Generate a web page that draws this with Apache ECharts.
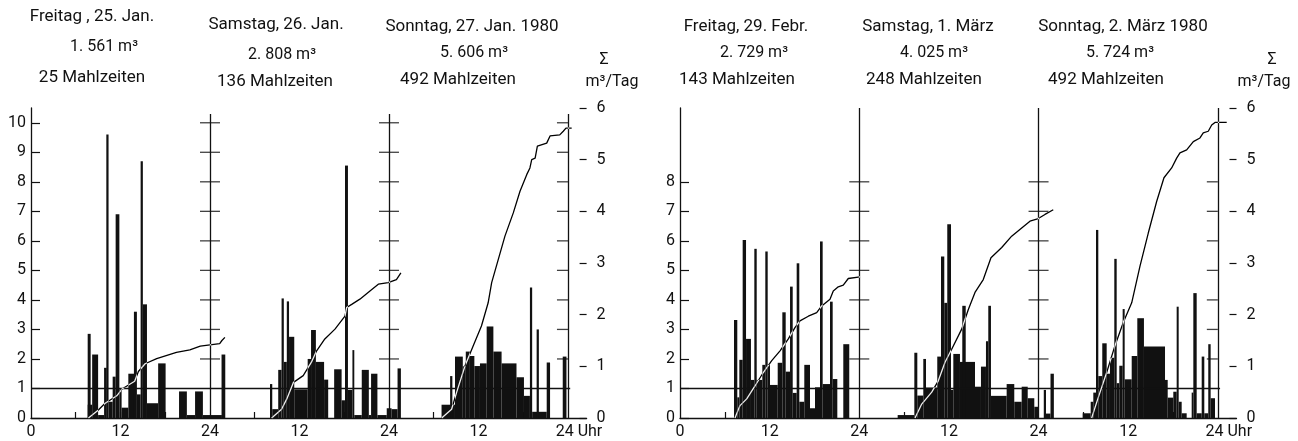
<!DOCTYPE html>
<html>
<head>
<meta charset="utf-8">
<script src="https://cdn.jsdelivr.net/npm/echarts@6/dist/echarts.min.js"></script>
<style>
html, body { margin: 0; padding: 0; background: #fff; }
#chart { width: 1298px; height: 441px; }
</style>
</head>
<body>
<div id="chart"></div>
<script>
'use strict';

/* Stundenachse: drei Tage hintereinander, 0..72 h */
var hourLabelValues = [0, 12, 24, 36, 48, 60, 72];
var hourLabelTexts = ['0', '12', '24', '12', '24', '12', '24 Uhr'];
var hourTickValues = [6, 12, 18, 30, 36, 42, 54, 60, 66];
var dayEnds = [24, 48, 72];

/* linke Achse (m3/h) und rechte Achse (Summe m3/Tag) */
var janLevels = [0, 1, 2, 3, 4, 5, 6, 7, 8, 9, 10];
var marLevels = [0, 1, 2, 3, 4, 5, 6, 7, 8];
var janCrossLevels = [2, 3, 4, 5, 6, 7, 8, 9, 10];
var marCrossLevels = [2, 3, 4, 5, 6, 7, 8];

/* Kopfzeilen je Tag */
var janDays = [
    ['Freitag , 25. Jan.', '1. 561 m³', '25 Mahlzeiten'],
    ['Samstag, 26. Jan.', '2. 808 m³', '136 Mahlzeiten'],
    ['Sonntag, 27. Jan. 1980', '5. 606 m³', '492 Mahlzeiten']
];
var marDays = [
    ['Freitag, 29. Febr.', '2. 729 m³', '143 Mahlzeiten'],
    ['Samstag, 1. März', '4. 025 m³', '248 Mahlzeiten'],
    ['Sonntag, 2. März 1980', '5. 724 m³', '492 Mahlzeiten']
];

/* Verbrauchsbloecke [von h, bis h, m3/h] - Januar */
var janBlocks = [
    // Freitag
    [7.6, 8.0, 2.85], [7.6, 8.2, 0.45], [8.2, 9.0, 2.15], [9.0, 9.8, 0.1], [9.8, 10.15, 1.7],
    [10.1, 10.4, 9.6], [10.4, 10.95, 0.55], [10.95, 11.35, 1.4], [11.35, 11.85, 6.9], [11.85, 12.15, 1.0],
    [12.15, 13.05, 0.35], [13.05, 13.85, 1.5], [13.8, 14.2, 3.6], [14.2, 14.7, 0.8], [14.7, 15.0, 8.7],
    [15.0, 15.55, 3.85], [15.55, 17.05, 0.5], [17.05, 18.05, 1.85], [19.85, 20.9, 0.9], [20.9, 22.0, 0.1],
    [22.0, 23.05, 0.9], [23.05, 25.6, 0.1], [25.55, 26.05, 2.15],
    // Samstag
    [32.05, 32.35, 1.15], [32.35, 33.15, 0.3], [33.15, 33.6, 1.63], [33.6, 33.9, 4.05], [33.9, 34.3, 1.9],
    [34.3, 34.6, 3.95], [34.6, 35.3, 2.75], [35.3, 37.1, 0.97], [37.1, 37.55, 2.0], [37.55, 38.2, 2.98],
    [38.2, 39.3, 1.9], [39.3, 39.85, 1.3], [40.65, 41.65, 1.65], [41.65, 42.1, 0.6], [42.1, 42.5, 8.55],
    [42.5, 43.1, 0.95], [43.1, 43.35, 2.3], [43.35, 44.35, 0.1], [44.35, 45.3, 1.63], [45.3, 45.6, 0.1],
    [45.6, 46.45, 1.5], [46.45, 47.7, 0.1], [47.7, 48.35, 0.33], [48.35, 49.15, 0.3], [49.15, 49.6, 1.68],
    // Sonntag
    [55.05, 56.85, 0.45], [56.2, 56.5, 1.42], [56.85, 57.9, 2.08], [57.9, 58.3, 1.75], [58.3, 58.85, 2.25],
    [58.85, 59.45, 2.1], [59.45, 60.2, 1.76], [60.2, 61.1, 1.85], [61.1, 62.0, 3.1], [62.0, 63.1, 2.25],
    [63.1, 65.1, 1.85], [65.1, 66.1, 1.38], [66.1, 66.9, 0.75], [66.9, 67.2, 4.42], [67.2, 69.15, 0.21],
    [67.8, 68.1, 3.0], [69.15, 69.6, 1.88], [71.3, 71.8, 2.08]
];

/* Verbrauchsbloecke - Februar / Maerz */
var marBlocks = [
    // Freitag
    [7.23, 7.67, 3.32], [7.67, 7.94, 0.7], [7.94, 8.39, 1.97], [8.39, 8.84, 6.03], [8.84, 9.5, 2.68],
    [9.5, 9.95, 1.29], [9.95, 10.27, 5.73], [10.27, 11.02, 1.29], [11.02, 11.42, 1.8], [11.42, 11.74, 5.64],
    [11.74, 12.05, 1.8], [12.05, 13.08, 1.12], [13.08, 13.7, 1.87], [13.7, 14.15, 3.58], [14.15, 14.73, 1.57],
    [14.73, 15.09, 4.45], [15.09, 15.62, 0.85], [15.62, 15.97, 5.24], [15.97, 16.64, 0.55], [16.64, 17.4, 1.8],
    [17.4, 18.07, 0.33], [18.07, 18.74, 1.04], [18.74, 19.1, 5.98], [19.1, 20.08, 1.15], [20.08, 20.44, 3.94],
    [20.44, 21.06, 1.32], [21.86, 22.66, 2.5],
    // Samstag
    [29.14, 31.37, 0.1], [31.37, 31.77, 2.21], [31.77, 32.57, 0.76], [32.57, 32.93, 2.0], [32.93, 34.44, 1.03],
    [34.44, 34.94, 2.08], [34.94, 35.38, 5.47], [35.38, 35.78, 3.9], [35.78, 36.28, 6.56], [36.28, 36.59, 0.95],
    [36.59, 37.48, 2.17], [37.48, 39.49, 1.9], [37.79, 38.25, 3.8], [39.49, 40.29, 1.06], [40.29, 40.96, 1.74],
    [40.96, 41.27, 2.6], [41.27, 41.63, 3.8], [41.63, 43.73, 0.75], [43.73, 44.75, 1.15], [44.75, 45.74, 0.55],
    [45.74, 46.55, 1.06], [46.55, 47.43, 0.67], [47.43, 48.06, 0.38], [48.7, 49.0, 0.95], [49.0, 49.6, 0.15],
    [49.6, 50.05, 1.5],
    // Sonntag
    [53.91, 54.98, 0.16], [54.98, 55.33, 0.55], [55.33, 55.69, 0.86], [55.69, 56.0, 6.37], [56.0, 56.53, 1.42],
    [56.53, 57.12, 2.53], [57.12, 57.56, 1.5], [57.56, 58.14, 2.04], [58.14, 58.46, 5.39], [58.46, 58.81, 1.18],
    [58.81, 59.26, 1.77], [59.26, 59.53, 3.69], [59.53, 60.47, 1.31], [60.47, 61.22, 2.1], [61.22, 62.11, 3.38],
    [62.11, 64.93, 2.42], [64.93, 65.29, 1.29], [65.29, 66.04, 0.69], [66.04, 66.49, 0.89], [66.49, 66.76, 3.77],
    [66.76, 67.16, 0.55], [67.16, 67.83, 0.16], [68.5, 68.72, 0.86], [68.72, 69.17, 4.23], [69.17, 69.84, 0.16],
    [69.84, 70.19, 2.08], [70.19, 70.72, 0.16], [70.72, 71.04, 2.5], [71.04, 71.62, 0.67]
];

/* Summenkurven [h, m3] */
var janSumFr = [[7.7, 0], [9.0, 0.15], [9.9, 0.28], [11.5, 0.43], [12.2, 0.56], [13.9, 0.71], [14.4, 0.9], [15.3, 1.05],
    [16.85, 1.15], [19.5, 1.27], [21.3, 1.32], [22.7, 1.39], [25.3, 1.44], [25.6, 1.5], [26.0, 1.56]];
var janSumSa = [[32.27, 0], [33.6, 0.17], [34.3, 0.37], [35.2, 0.69], [36.5, 0.82], [37.6, 1.08], [38.3, 1.3], [39.4, 1.53],
    [40.76, 1.72], [42.1, 1.97], [42.33, 2.14], [43.0, 2.2], [44.1, 2.3], [45.45, 2.46], [46.57, 2.59], [47.9, 2.62],
    [49.0, 2.68], [49.6, 2.81]];
var janSumSo = [[55.07, 0], [56.4, 0.17], [57.08, 0.5], [58.2, 1.01], [59.3, 1.4], [60.4, 1.78], [61.3, 2.23], [61.77, 2.62],
    [62.66, 3.07], [63.55, 3.52], [64.67, 3.97], [65.57, 4.39], [66.47, 4.71], [66.9, 4.84], [67.14, 5.0], [67.6, 5.03],
    [67.9, 5.26], [69.15, 5.32], [69.6, 5.46], [70.9, 5.48], [71.37, 5.55], [71.73, 5.61], [72.5, 5.61]];
var marSumFr = [[7.36, 0], [8.03, 0.24], [8.93, 0.37], [10.04, 0.62], [11.15, 0.88], [12.28, 1.11], [13.39, 1.3], [14.5, 1.53],
    [15.39, 1.75], [16.06, 1.88], [17.18, 1.97], [18.3, 2.04], [18.97, 2.17], [20.08, 2.3], [20.52, 2.46], [21.19, 2.54],
    [21.86, 2.57], [22.53, 2.7], [24.1, 2.73]];
var marSumSa = [[31.46, 0], [32.36, 0.27], [33.7, 0.5], [34.58, 0.72], [35.48, 1.08], [36.37, 1.33], [37.71, 1.72], [38.6, 2.1],
    [39.49, 2.43], [40.6, 2.68], [41.63, 3.1], [43.07, 3.3], [44.4, 3.52], [45.5, 3.65], [46.85, 3.81], [47.97, 3.86],
    [48.86, 3.94], [49.97, 4.03]];
var marSumSo = [[55.11, 0], [56.0, 0.4], [57.12, 0.88], [58.23, 1.4], [59.34, 1.85], [60.47, 2.23], [61.58, 2.94], [62.69, 3.58],
    [63.81, 4.19], [64.79, 4.65], [65.82, 4.84], [66.49, 5.03], [66.93, 5.13], [67.83, 5.19], [68.72, 5.35], [69.61, 5.42],
    [70.05, 5.52], [70.72, 5.55], [71.18, 5.67], [71.62, 5.72], [73.19, 5.72]];

var INK = '#111';
var FONT = 'Roboto, "DejaVu Sans", sans-serif';

var myChart = echarts.init(document.getElementById('chart'));

function hourAxis(gridIndex) {
    return {
        type: 'value', gridIndex: gridIndex, min: 0, max: 74.5,
        axisLine: { lineStyle: { color: INK, width: 1.3 } },
        axisTick: { inside: true, length: 6, customValues: hourTickValues, lineStyle: { color: INK, width: 1.2 } },
        axisLabel: {
            customValues: hourLabelValues, margin: 6, color: INK, fontFamily: FONT, fontSize: 16,
            formatter: function (v) {
                var i = hourLabelValues.indexOf(v);
                if (i === hourLabelValues.length - 1) return '{u|' + hourLabelTexts[i] + '}';
                return i < 0 ? '' : hourLabelTexts[i];
            },
            rich: { u: { padding: [0, 0, 0, 22], color: INK, fontFamily: FONT, fontSize: 16 } }
        },
        splitLine: { show: false }
    };
}

function rateAxis(gridIndex, levels) {
    return {
        type: 'value', gridIndex: gridIndex, position: 'left', min: 0, max: 10.5,
        axisLine: { show: true, lineStyle: { color: INK, width: 1.3 } },
        axisTick: { show: true, inside: true, length: 9, customValues: levels, lineStyle: { color: INK, width: 1.2 } },
        axisLabel: { customValues: levels, margin: 5, color: INK, fontFamily: FONT, fontSize: 16 },
        splitLine: { show: false }
    };
}

function sumAxis(gridIndex) {
    return {
        type: 'value', gridIndex: gridIndex, position: 'right', min: 0, max: 6, interval: 1,
        axisLine: { show: false },
        axisTick: { show: true, inside: true, length: 7, lineStyle: { color: INK, width: 1.2 } },
        axisLabel: { margin: 10, color: INK, fontFamily: FONT, fontSize: 16 },
        splitLine: { show: false }
    };
}

function blockSeries(gridIndex, blocks) {
    return {
        type: 'custom', xAxisIndex: gridIndex, yAxisIndex: gridIndex * 2,
        data: blocks, encode: { x: [0, 1], y: 2 }, silent: true, z: 2,
        renderItem: function (params, api) {
            var top = api.coord([api.value(0), api.value(2)]);
            var foot = api.coord([api.value(1), 0]);
            return {
                type: 'rect',
                shape: { x: top[0], y: top[1], width: foot[0] - top[0], height: foot[1] - top[1] },
                style: { fill: INK }
            };
        }
    };
}

// weisse Linie mit Differenz-Mischung: schwarz auf Papier, weiss in den Balken
function sumSeries(gridIndex, points) {
    return {
        type: 'line', xAxisIndex: gridIndex, yAxisIndex: gridIndex * 2 + 1,
        data: points, symbol: 'none', silent: true, z: 5,
        lineStyle: { color: '#fff', width: 1.3 },
        blendMode: 'difference'
    };
}

function frameSeries(gridIndex, crossLevels, topLevel) {
    var crosses = [];
    var endTicks = [];
    dayEnds.forEach(function (d) {
        crossLevels.forEach(function (k) {
            if (d === dayEnds[dayEnds.length - 1]) endTicks.push([d, k]);
            else crosses.push([d, k]);
        });
    });
    var lines = dayEnds.map(function (d) {
        return [{ coord: [d, 0] }, { coord: [d, topLevel] }];
    });
    lines.push([{ coord: [0, 1] }, { coord: [72.3, 1] }]);
    return [{
        type: 'scatter', xAxisIndex: gridIndex, yAxisIndex: gridIndex * 2,
        data: crosses, symbol: 'rect', symbolSize: [20, 1.3], silent: true, z: 3,
        itemStyle: { color: INK },
        markLine: {
            silent: true, symbol: 'none', label: { show: false },
            lineStyle: { color: INK, width: 1.3, type: 'solid' },
            data: lines
        }
    }, {
        type: 'scatter', xAxisIndex: gridIndex, yAxisIndex: gridIndex * 2,
        data: endTicks, symbol: 'rect', symbolSize: [11, 1.3], symbolOffset: [-5.5, 0], silent: true, z: 3,
        itemStyle: { color: INK }
    }];
}

// Textpositionen (Mitte) der Kopfzeilen
var headSpots = [
    [[92, 17], [104, 47], [92, 78]],
    [[276, 25], [282, 55], [275, 82]],
    [[472, 27], [474, 53], [458, 80]],
    [[746, 27], [754, 53], [737, 80]],
    [[928, 27], [934, 53], [924, 80]],
    [[1123, 27], [1120, 53], [1106, 80]]
];

function textEl(str, x, y, size) {
    return {
        type: 'text', x: x, y: y, silent: true,
        style: {
            text: str, fill: INK, font: size + 'px ' + FONT,
            textAlign: 'center', textVerticalAlign: 'middle', align: 'center', verticalAlign: 'middle'
        }
    };
}

var heads = [];
janDays.concat(marDays).forEach(function (lines, i) {
    lines.forEach(function (str, j) {
        heads.push(textEl(str, headSpots[i][j][0], headSpots[i][j][1], j === 1 ? 16 : 17));
    });
});
heads.push(textEl('Σ', 604, 60, 16), textEl('m³/Tag', 612, 82, 16));
heads.push(textEl('Σ', 1272, 60, 16), textEl('m³/Tag', 1264, 82, 16));

var option = {
    backgroundColor: '#fff',
    animation: false,
    grid: [
        { left: 31, top: 108, width: 555.6, height: 310 },
        { left: 680, top: 108, width: 556.5, height: 310 }
    ],
    xAxis: [hourAxis(0), hourAxis(1)],
    yAxis: [rateAxis(0, janLevels), sumAxis(0), rateAxis(1, marLevels), sumAxis(1)],
    graphic: { elements: heads },
    series: [].concat(
        frameSeries(0, janCrossLevels, 10.3),
        frameSeries(1, marCrossLevels, 10.5),
        [blockSeries(0, janBlocks), blockSeries(1, marBlocks)],
        [sumSeries(0, janSumFr), sumSeries(0, janSumSa), sumSeries(0, janSumSo)],
        [sumSeries(1, marSumFr), sumSeries(1, marSumSa), sumSeries(1, marSumSo)]
    )
};

myChart.setOption(option);
</script>
</body>
</html>
